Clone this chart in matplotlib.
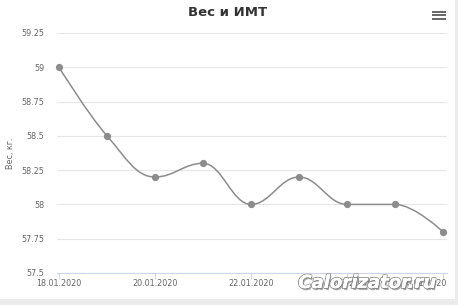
import numpy as np
import matplotlib
matplotlib.use("Agg")
import matplotlib.pyplot as plt
from matplotlib.path import Path
from matplotlib.patches import PathPatch, Rectangle
import matplotlib.patheffects as pe
import matplotlib.transforms as mtransforms

days = [18, 19, 20, 21, 22, 23, 24, 25, 26]
weights = [59.0, 58.5, 58.2, 58.3, 58.0, 58.2, 58.0, 58.0, 57.8]
tick_days = [18, 20, 22, 24, 26]
tick_labels = ["18.01.2020", "20.01.2020", "22.01.2020", "24.01.2020", "26.01.2020"]
y_ticks = [57.5, 57.75, 58, 58.25, 58.5, 58.75, 59, 59.25]
y_labels = ["57.5", "57.75", "58", "58.25", "58.5", "58.75", "59", "59.25"]


def spline_path(xs, ys, smoothing=1.5):
    """Highcharts-style spline as cubic bezier path"""
    denom = smoothing + 1
    n = len(xs)
    left = [(xs[i], ys[i]) for i in range(n)]
    right = [(xs[i], ys[i]) for i in range(n)]
    for i in range(1, n - 1):
        px, py = xs[i], ys[i]
        lx, ly = xs[i - 1], ys[i - 1]
        nx, ny = xs[i + 1], ys[i + 1]
        lcx = (smoothing * px + lx) / denom
        lcy = (smoothing * py + ly) / denom
        rcx = (smoothing * px + nx) / denom
        rcy = (smoothing * py + ny) / denom
        if rcx != lcx:
            corr = (rcy - lcy) * (rcx - px) / (rcx - lcx) + py - rcy
            lcy += corr
            rcy += corr
            if lcy > ly and lcy > py:
                lcy = max(ly, py)
                rcy = 2 * py - lcy
            elif lcy < ly and lcy < py:
                lcy = min(ly, py)
                rcy = 2 * py - lcy
            if rcy > ny and rcy > py:
                rcy = max(ny, py)
                lcy = 2 * py - rcy
            elif rcy < ny and rcy < py:
                rcy = min(ny, py)
                lcy = 2 * py - rcy
        left[i] = (lcx, lcy)
        right[i] = (rcx, rcy)
    verts = [(xs[0], ys[0])]
    codes = [Path.MOVETO]
    for i in range(1, n):
        verts += [right[i - 1], left[i], (xs[i], ys[i])]
        codes += [Path.CURVE4] * 3
    return Path(verts, codes)


fig = plt.figure(figsize=(4.58, 3.05), dpi=100)
fig.patch.set_facecolor("white")

# grey page frame at right / bottom
fig.add_artist(Rectangle((455 / 458, 0), 3 / 458, 1, transform=fig.transFigure,
                         color="#ececec", lw=0))
fig.add_artist(Rectangle((0, 0), 1, 6 / 305, transform=fig.transFigure,
                         color="#ececec", lw=0))

ax = fig.add_axes([57 / 458, 1 - 273 / 305, 390 / 458, 240 / 305])
ax.set_xlim(18 - 2 / 48, 18 + 388 / 48)
ax.set_ylim(57.5, 59.25)

ax.add_patch(PathPatch(spline_path(days, weights), fill=False,
                       edgecolor="#8c8c8c", lw=1.1, zorder=3, clip_on=False))
ax.plot(days, weights, "o", color="#8c8c8c", ms=4.2, zorder=4, clip_on=False)

ax.set_yticks(y_ticks)
ax.set_yticklabels(y_labels)
ax.set_xticks(tick_days)
ax.set_xticklabels(tick_labels)
ax.grid(axis="y", color="#e6e6e6", lw=0.8)
ax.set_axisbelow(True)
for s in ["top", "right", "left"]:
    ax.spines[s].set_visible(False)
ax.spines["bottom"].set_color("#ccd6eb")
ax.spines["bottom"].set_linewidth(0.8)
ax.tick_params(axis="y", length=0, labelsize=5.8, labelcolor="#666666", pad=9)
ax.tick_params(axis="x", length=4, width=0.8, color="#ccd6eb", labelsize=5.8,
               labelcolor="#666666", pad=0.5)
ax.set_ylabel("Вес, кг.", fontsize=5.8, color="#666666")
ax.yaxis.set_label_coords(-(57 - 15) / 390, 0.5)

# last label pushed inside the chart, like Highcharts does
last = ax.get_xticklabels()[-1]
last.set_horizontalalignment("right")
last.set_transform(last.get_transform() +
                   mtransforms.ScaledTranslation(4 / 100, 0, fig.dpi_scale_trans))

fig.text(228 / 458, 1 - 13 / 305, "Вес и ИМТ", ha="center", va="center",
         fontsize=9.5, fontweight="bold", color="#333333")

# menu icon
for dy in (11.5, 15, 18.5):
    fig.add_artist(plt.Line2D([433 / 458, 445 / 458], [1 - dy / 305] * 2,
                              transform=fig.transFigure, color="#666666", lw=1.4))

# watermark
fig.text(367 / 458, 1 - 283 / 305, "Calorizator.ru", ha="center", va="center",
         fontsize=13, fontweight="bold", style="italic", color="white",
         path_effects=[pe.withStroke(linewidth=1.5, foreground="#9a9a9a"),
                       pe.withSimplePatchShadow(offset=(1, -1.5), shadow_rgbFace="#777777", alpha=0.6),
                       pe.Normal()])

plt.savefig("out.png", dpi=100)
plt.close()
